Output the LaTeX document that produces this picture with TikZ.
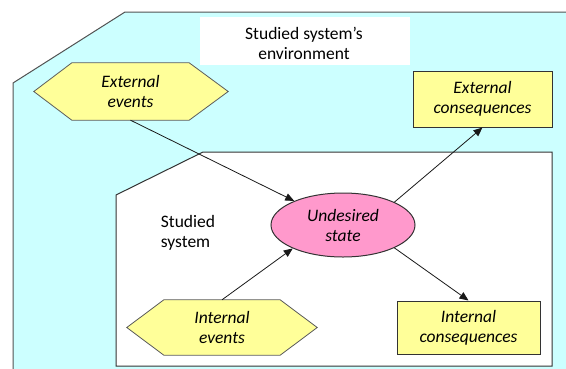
\documentclass[tikz,border=0pt]{standalone}
\usepackage{fontspec}
\setmainfont{Carlito}
\usetikzlibrary{shapes.geometric,arrows.meta}
\definecolor{envcyan}{HTML}{CCFFFF}
\definecolor{evyellow}{HTML}{FFFF99}
\definecolor{stpink}{HTML}{FF99CC}
\definecolor{edge}{HTML}{333333}
\tikzset{
  lbl/.style={font=\fontsize{17.5}{20}\selectfont, align=center, text=black},
  ilbl/.style={lbl, font=\fontsize{17.5}{20}\selectfont\itshape},
  hexbox/.style={ilbl, inner sep=0pt},
  conbox/.style={ilbl, draw=edge, line width=1pt, fill=evyellow, inner sep=0pt},
  hexline/.style={draw=edge!80, line width=0.8pt, fill=evyellow},
  conn/.style={draw=black!90, line width=0.8pt, -{Triangle[length=9pt,width=7.5pt]}},
}
\begin{document}
\begin{tikzpicture}[x=1pt,y=-1pt]
\useasboundingbox (0,0) rectangle (566,368);
\clip (0,0) rectangle (566,368);
% environment
\fill[envcyan] (13,372) -- (13,83) -- (125,12) -- (572,12) -- (572,372) -- cycle;
\draw[edge!85, line width=1pt] (13,372) -- (13,83) -- (125,12) -- (572,12);
% title box
\node[fill=white, minimum width=210pt, minimum height=48pt, inner sep=0pt] (tbox) at (305,41) {};
\node[lbl] (title) at (304,43) {Studied system’s\\environment};
% studied system
\draw[edge, line width=1pt, fill=white] (116,366) -- (116,195) -- (203,152) -- (552,152) -- (552,366) -- cycle;
\node[lbl, align=left] (sys) at (188,233) {Studied\\system};
% external events hexagon
\node[hexbox, minimum width=117pt, minimum height=57pt] (ee) at (130.5,91.5) {External\\events};
\path[hexline] (ee.north west) -- (ee.north east) -- ([xshift=39pt]ee.east) -- (ee.south east) -- (ee.south west) -- ([xshift=-38pt]ee.west) -- cycle;
\node[hexbox, minimum width=117pt, minimum height=57pt] at (ee) {External\\events};
% internal events hexagon
\node[hexbox, minimum width=116pt, minimum height=55pt] (ie) at (222,327.5) {Internal\\events};
\path[hexline] (ie.north west) -- (ie.north east) -- ([xshift=37pt]ie.east) -- (ie.south east) -- (ie.south west) -- ([xshift=-37pt]ie.west) -- cycle;
\node[hexbox, minimum width=116pt, minimum height=55pt] at (ie) {Internal\\events};
% consequences
\node[conbox, minimum width=139pt, minimum height=56pt] (ec) at (482.5,99) {External\\consequences};
\node[conbox, minimum width=143pt, minimum height=53pt] (ic) at (468.5,327.5) {Internal\\consequences};
% undesired state
\node[ellipse, draw=edge, line width=1pt, fill=stpink, minimum width=144pt, minimum height=64pt, inner sep=0pt, ilbl] (us) at (343,225) {Undesired\\state};
% connectors
\draw[conn] (ee.south) -- (us);
\draw[conn] (ie.north) -- (us.205);
\draw[conn] (us.24) -- (ec.south);
\draw[conn] (us.-24) -- (ic.north);
\end{tikzpicture}
\end{document}
